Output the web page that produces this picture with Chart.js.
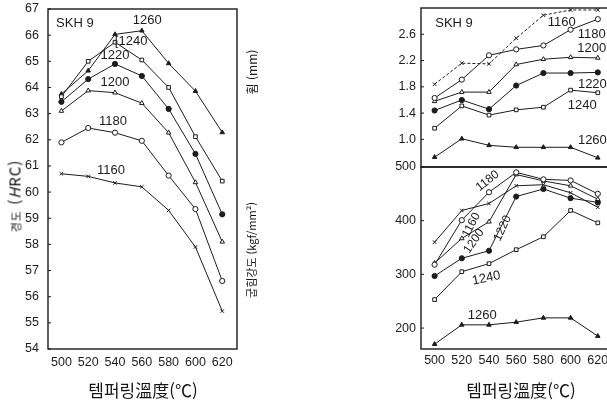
<!DOCTYPE html>
<html lang="ko">
<head>
<meta charset="UTF-8">
<title>SKH 9 템퍼링 특성</title>
<script src="https://cdn.jsdelivr.net/npm/chart.js"></script>
<style>
    html, body { margin: 0; padding: 0; background: #fff; overflow: hidden; }
    .wrap { position: relative; width: 607px; height: 407px; overflow: hidden; }
    canvas { position: absolute; }
    .txt {
        position: absolute;
        font-family: "Noto Sans CJK KR", sans-serif;
        color: #151515;
        white-space: nowrap;
        transform: translate(-50%, -50%);
    }
    .vert { transform: translate(-50%, -50%) rotate(-90deg); }
</style>
</head>
<body>
<div class="wrap">
    <canvas id="hardness" width="250" height="380" style="left:0;top:0"></canvas>
    <canvas id="deflection" width="250" height="175" style="left:380px;top:0"></canvas>
    <canvas id="strength" width="250" height="220" style="left:380px;top:160px"></canvas>

    <div class="txt vert" style="left:14px;top:196px;font-size:15px;letter-spacing:1px"><span style="font-size:11px">경도</span> (<i>H</i>RC)</div>
    <div class="txt vert" style="left:251px;top:72px;font-size:12px">휨 (mm)</div>
    <div class="txt vert" style="left:251px;top:250px;font-size:11px">굽힘강도 (kgf/mm²)</div>
    <div class="txt" style="left:143px;top:389px;font-size:17px">템퍼링溫度(℃)</div>
    <div class="txt" style="left:521px;top:389px;font-size:17px">템퍼링溫度(℃)</div>
</div>

<script>
    // tempering temperatures (x) and quenching temperatures (one line each)
    const temps = [500, 520, 540, 560, 580, 600, 620];
    const quench = ['1160', '1180', '1200', '1220', '1240', '1260'];

    // hardness HRC, one row per quenching temperature
    const hardness = [
        [60.7, 60.6, 60.35, 60.2, 59.3, 57.9, 55.45],
        [61.9, 62.45, 62.27, 61.96, 60.63, 59.35, 56.6],
        [63.1, 63.88, 63.8, 63.4, 62.27, 60.37, 58.1],
        [63.45, 64.32, 64.9, 64.44, 63.18, 61.46, 59.15],
        [63.65, 65.0, 65.73, 65.05, 64.0, 62.12, 60.42],
        [63.75, 64.64, 66.03, 66.17, 64.92, 63.86, 62.28]
    ];

    // deflection mm
    const deflection = [
        [1.84, 2.16, 2.15, 2.54, 2.89, 2.97, 2.97],
        [1.63, 1.91, 2.28, 2.37, 2.43, 2.67, 2.83],
        [1.58, 1.72, 1.72, 2.14, 2.22, 2.25, 2.24],
        [1.44, 1.60, 1.46, 1.82, 2.01, 2.01, 2.02],
        [1.17, 1.51, 1.37, 1.45, 1.49, 1.75, 1.71],
        [0.73, 1.01, 0.91, 0.88, 0.88, 0.88, 0.72]
    ];

    // bending strength kgf/mm2
    const strength = [
        [360, 419, 432, 465, 467, 452, 425],
        [318, 401, 453, 490, 477, 475, 450],
        [321, 367, 398, 486, 474, 465, 440],
        [297, 330, 344, 445, 459, 442, 434],
        [253, 305, 320, 346, 370, 419, 396],
        [170, 206, 206, 211, 219, 219, 185]
    ];

    // tick labels
    const xTicks = [500, 520, 540, 560, 580, 600, 620];
    const hardnessTicks = [54, 55, 56, 57, 58, 59, 60, 61, 62, 63, 64, 65, 66, 67];
    const deflectionTicks = [1.0, 1.4, 1.8, 2.2, 2.6];
    const strengthTicks = [200, 300, 400, 500];

    const markers = ['crossRot', 'circle', 'triangle', 'circle', 'rect', 'triangle'];
    const filled = [true, false, false, true, false, true];
    const ink = '#1c1c1c';
    const tickFont = { family: '"Liberation Sans", sans-serif', size: 12.5 };

    function buildSets(rows, dashFirst) {
        return quench.map((q, i) => ({
            label: q,
            data: temps.map((t, j) => ({ x: t, y: rows[i][j] })),
            borderColor: ink,
            borderWidth: 1,
            borderDash: (dashFirst && i === 0) ? [3, 2] : [],
            pointStyle: markers[i],
            pointRadius: markers[i] === 'crossRot' ? 2.5 : 2.6,
            pointBorderWidth: 1,
            pointBorderColor: ink,
            pointBackgroundColor: filled[i] ? ink : '#fff',
            tension: 0
        }));
    }

    // box round the plot area, with short inner ticks on the left
    const framePlugin = {
        id: 'frame',
        afterDraw(chart) {
            const a = chart.chartArea, ctx = chart.ctx, y = chart.scales.y;
            ctx.save();
            ctx.strokeStyle = ink;
            ctx.lineWidth = 1.4;
            ctx.strokeRect(a.left, a.top, a.right - a.left, a.bottom - a.top);
            ctx.lineWidth = 1;
            y.ticks.forEach(t => {
                const py = y.getPixelForValue(t.value);
                ctx.beginPath();
                ctx.moveTo(a.left, py);
                ctx.lineTo(a.left + 3, py);
                ctx.stroke();
            });
            ctx.restore();
        }
    };

    // series labels placed in data units
    function notesPlugin(notes) {
        return {
            id: 'notes',
            afterDatasetsDraw(chart) {
                const ctx = chart.ctx, x = chart.scales.x, y = chart.scales.y;
                notes.forEach(n => {
                    ctx.save();
                    ctx.translate(x.getPixelForValue(n.x), y.getPixelForValue(n.y));
                    ctx.rotate((n.rot || 0) * Math.PI / 180);
                    ctx.font = (n.size || 13) + 'px "Liberation Sans", sans-serif';
                    ctx.fillStyle = ink;
                    ctx.textAlign = n.align || 'center';
                    ctx.textBaseline = 'middle';
                    ctx.fillText(n.text, 0, 0);
                    ctx.restore();
                });
            }
        };
    }

    // fixed axis sizes so the plot areas line up with the reference
    function noPad(s) {
        s.paddingTop = 0; s.paddingBottom = 0; s.paddingLeft = 0; s.paddingRight = 0;
    }

    function xScale(min, max, show, pad) {
        return {
            type: 'linear', min: min, max: max, display: show,
            afterBuildTicks: s => { s.ticks = xTicks.map(v => ({ value: v })); },
            afterFit: s => { noPad(s); if (show) s.height = 31; },
            grid: { display: false, drawTicks: false },
            border: { display: false },
            ticks: { font: tickFont, color: ink, padding: pad, maxRotation: 0 }
        };
    }

    function yScale(min, max, list, width, pad, fmt) {
        return {
            min: min, max: max,
            afterBuildTicks: s => { s.ticks = list.map(v => ({ value: v })); },
            afterFit: s => { noPad(s); s.width = width; },
            grid: { display: false, drawTicks: false },
            border: { display: false },
            ticks: { font: tickFont, color: ink, padding: pad, callback: fmt }
        };
    }

    const common = {
        responsive: false,
        animation: false,
        plugins: { legend: { display: false }, tooltip: { enabled: false } }
    };

    new Chart(document.getElementById('hardness'), {
        type: 'line',
        data: { datasets: buildSets(hardness, false) },
        options: Object.assign({}, common, {
            layout: { padding: { left: 0, right: 13, top: 9, bottom: 0 } },
            scales: {
                x: xScale(490, 631, true, 6),
                y: yScale(54, 67, hardnessTicks, 48, 9, v => v)
            }
        }),
        plugins: [framePlugin, notesPlugin([
            { text: 'SKH 9', x: 496, y: 66.43, align: 'left' },
            { text: '1260', x: 564, y: 66.56 },
            { text: '[1240', x: 552, y: 65.76 },
            { text: '1220', x: 540, y: 65.22 },
            { text: '1200', x: 540, y: 64.2 },
            { text: '1180', x: 538.5, y: 62.72 },
            { text: '1160', x: 537, y: 60.84 }
        ])]
    });

    new Chart(document.getElementById('deflection'), {
        type: 'line',
        data: { datasets: buildSets(deflection, true) },
        options: Object.assign({}, common, {
            layout: { padding: { left: 0, right: 18.6, top: 8, bottom: 8 } },
            scales: {
                x: xScale(490, 630, false, 4),
                y: yScale(0.58, 3.0, deflectionTicks, 41, 5, v => v.toFixed(1))
            }
        }),
        plugins: [framePlugin, notesPlugin([
            { text: 'SKH 9', x: 500.5, y: 2.77, align: 'left' },
            { text: '1160', x: 593.5, y: 2.78 },
            { text: '1180', x: 615.5, y: 2.60 },
            { text: '1200', x: 615.5, y: 2.39 },
            { text: '1220', x: 616, y: 1.84 },
            { text: '1240', x: 608.5, y: 1.51 },
            { text: '1260', x: 616, y: 0.98 }
        ])]
    });

    new Chart(document.getElementById('strength'), {
        type: 'line',
        data: { datasets: buildSets(strength, false) },
        options: Object.assign({}, common, {
            layout: { padding: { left: 0, right: 18.6, top: 7, bottom: 0 } },
            scales: {
                x: xScale(490, 630, true, 4),
                y: yScale(161, 500, strengthTicks, 41, 5, v => v)
            }
        }),
        plugins: [framePlugin, notesPlugin([
            { text: '1180', x: 539, y: 474, rot: -38, size: 12 },
            { text: '1160', x: 527, y: 392, rot: -62, size: 12 },
            { text: '1200', x: 529, y: 362, rot: -55, size: 12 },
            { text: '1220', x: 550, y: 386, rot: -65, size: 12 },
            { text: '1240', x: 538, y: 293, rot: -12 },
            { text: '1260', x: 535, y: 224 }
        ])]
    });
</script>
</body>
</html>
